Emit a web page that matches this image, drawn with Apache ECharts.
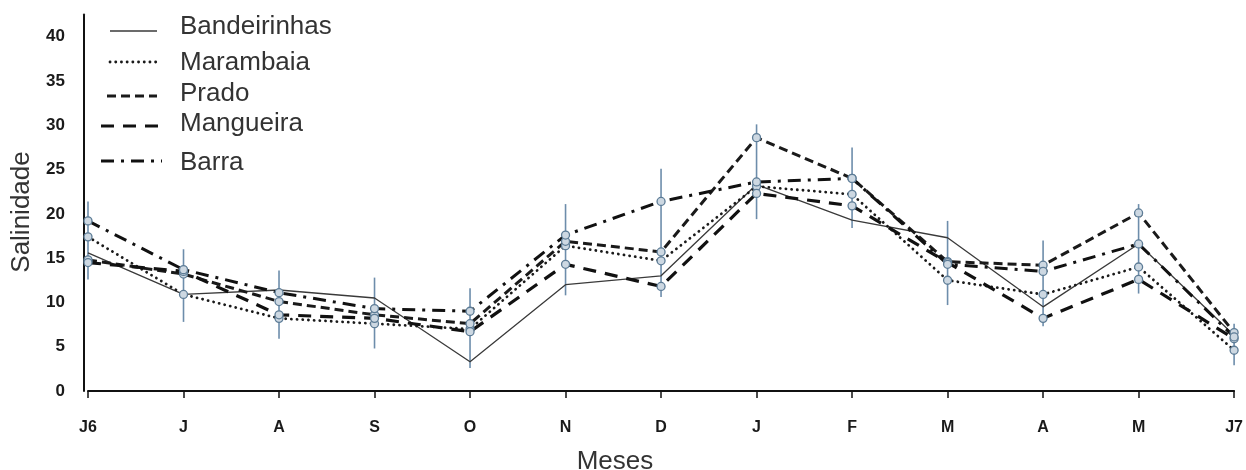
<!DOCTYPE html>
<html>
<head>
<meta charset="utf-8">
<script src="https://cdn.jsdelivr.net/npm/echarts@6/dist/echarts.min.js"></script>
<style>
  html, body { margin: 0; padding: 0; background: #fff; }
  #chart { width: 1246px; height: 470px; }
</style>
</head>
<body>
<div id="chart"></div>
<script>
// Monthly salinity at five sampling sites
const months = ['J6', 'J', 'A', 'S', 'O', 'N', 'D', 'J', 'F', 'M', 'A', 'M', 'J7'];
const seriesNames = ['Bandeirinhas', 'Marambaia', 'Prado', 'Mangueira', 'Barra'];
const bandeirinhas = [15.6, 10.9, 11.4, 10.5, 3.3, 12.0, 13.0, 23.3, 19.3, 17.3, 9.5, 16.6, 6.3];
const marambaia    = [17.4, 10.9, 8.2, 7.6, 7.0, 16.4, 14.7, 23.1, 22.2, 12.5, 10.9, 14.0, 4.6];
const prado        = [14.8, 13.2, 10.1, 8.6, 7.6, 16.9, 15.7, 28.6, 24.0, 14.6, 14.2, 20.1, 6.6];
const mangueira    = [14.5, 13.5, 8.6, 8.2, 6.7, 14.3, 11.8, 22.3, 20.9, 14.5, 8.2, 12.6, 5.9];
const barra        = [19.2, 13.7, 11.1, 9.3, 9.0, 17.6, 21.4, 23.6, 24.0, 14.3, 13.5, 16.6, 6.1];
// Error bar range per month
const errLow  = [12.6, 7.8, 5.9, 4.8, 2.6, 10.8, 10.6, 19.4, 18.4, 9.7, 7.3, 11.0, 2.9];
const errHigh = [21.4, 16.0, 13.6, 12.8, 11.6, 21.1, 25.1, 30.1, 27.5, 19.2, 17.0, 21.1, 7.6];
const yTicks = [0, 5, 10, 15, 20, 25, 30, 35, 40];

const seriesValues = [bandeirinhas, marambaia, prado, mangueira, barra];

// Line styles per site (solid, dotted, short dash, long dash, dash-dot)
const lineStyles = [
  { type: 'solid', width: 1.3, color: '#3a3a3a', cap: 'butt' },
  { type: [0.1, 5.6], width: 2.8, color: '#1a1a1a', cap: 'round' },
  { type: [9, 5], width: 3, color: '#1a1a1a', cap: 'butt' },
  { type: [13, 9], width: 3.2, color: '#111', cap: 'butt' },
  { type: [13, 7, 3, 7], width: 3, color: '#111', cap: 'butt' }
];
const FONT = '"Liberation Sans", Arial, sans-serif';

const chart = echarts.init(document.getElementById('chart'), null, { renderer: 'canvas' });

const lineSeries = seriesNames.map((name, i) => ({
  name: name,
  type: 'line',
  data: seriesValues[i],
  z: 3,
  symbol: i === 0 ? 'none' : 'circle',
  symbolSize: 8,
  showSymbol: i !== 0,
  itemStyle: { color: '#cdd8e2', borderColor: '#5d7c96', borderWidth: 1.3 },
  lineStyle: lineStyles[i],
  emphasis: { disabled: true },
  animation: false
}));

const errorSeries = {
  type: 'custom',
  name: 'erro',
  z: 2,
  data: months.map((m, i) => [i, errLow[i], errHigh[i]]),
  renderItem: function (params, api) {
    const lo = api.coord([api.value(0), api.value(1)]);
    const hi = api.coord([api.value(0), api.value(2)]);
    return {
      type: 'line',
      shape: { x1: lo[0], y1: lo[1], x2: hi[0], y2: hi[1] },
      style: { stroke: '#6d8dab', lineWidth: 1.6 }
    };
  },
  animation: false
};

// Legend drawn as sample strokes with labels
const legendRows = [
  { y: 31, ty: 27, x1: 110, x2: 157 },
  { y: 62, ty: 63, x1: 110, x2: 157 },
  { y: 96, ty: 94, x1: 107, x2: 157 },
  { y: 126, ty: 124, x1: 101, x2: 160 },
  { y: 161, ty: 163, x1: 101, x2: 162 }
];
const legendGraphics = [];
seriesNames.forEach((name, i) => {
  const r = legendRows[i];
  const ls = lineStyles[i];
  legendGraphics.push({
    type: 'line',
    shape: { x1: r.x1, y1: r.y, x2: r.x2, y2: r.y },
    style: {
      stroke: ls.color,
      lineWidth: ls.width,
      lineDash: Array.isArray(ls.type) ? ls.type : null,
      lineCap: ls.cap
    },
    z: 10
  });
  legendGraphics.push({
    type: 'text',
    x: 180,
    y: r.ty,
    style: {
      text: name,
      font: '26px ' + FONT,
      fill: '#333',
      align: 'left',
      verticalAlign: 'middle'
    },
    z: 10
  });
});

chart.setOption({
  animation: false,
  backgroundColor: '#ffffff',
  grid: { left: 88, right: 5, top: 14.5, bottom: 79, containLabel: false },
  xAxis: {
    type: 'category',
    data: months,
    boundaryGap: false,
    axisLine: { show: true, lineStyle: { color: '#111', width: 2 } },
    axisTick: { show: true, length: 7, inside: false, lineStyle: { color: '#111', width: 1.5 } },
    axisLabel: {
      interval: 0,
      margin: 29,
      color: '#1a1a1a',
      fontWeight: 'bold',
      fontSize: 16,
      fontFamily: FONT
    },
    splitLine: { show: false }
  },
  yAxis: {
    type: 'value',
    min: 0,
    max: 42.5,
    interval: 5,
    offset: 4,
    axisLine: { show: true, lineStyle: { color: '#111', width: 2 } },
    axisTick: { show: false },
    splitLine: { show: false },
    axisLabel: {
      margin: 19,
      showMaxLabel: false,
      color: '#1a1a1a',
      fontWeight: 'bold',
      fontSize: 17,
      fontFamily: FONT,
      formatter: function (v) { return yTicks.indexOf(v) >= 0 ? String(v) : ''; }
    }
  },
  graphic: [
    {
      type: 'text',
      x: 22,
      y: 212,
      rotation: Math.PI / 2,
      style: {
        text: 'Salinidade',
        font: '26px ' + FONT,
        fill: '#333',
        align: 'center',
        verticalAlign: 'middle'
      }
    },
    {
      type: 'text',
      x: 615,
      y: 462,
      style: {
        text: 'Meses',
        font: '26px ' + FONT,
        fill: '#333',
        align: 'center',
        verticalAlign: 'middle'
      }
    }
  ].concat(legendGraphics),
  series: [errorSeries].concat(lineSeries)
});
</script>
</body>
</html>
